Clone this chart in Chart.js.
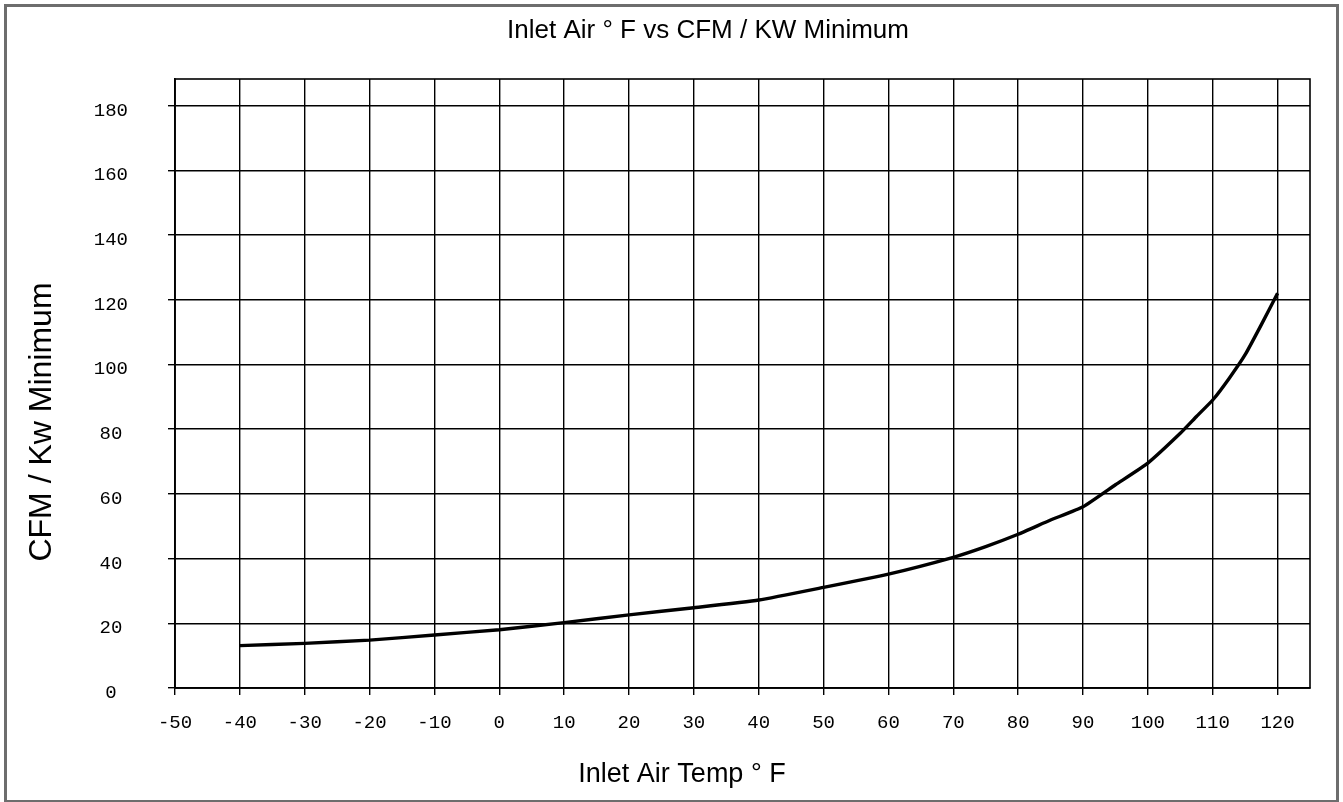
<!DOCTYPE html>
<html>
<head>
<meta charset="utf-8">
<title>Inlet Air vs CFM / KW Minimum</title>
<script src="https://cdn.jsdelivr.net/npm/chart.js@4.4.1/dist/chart.umd.min.js"></script>
<style>
  html, body { margin: 0; padding: 0; background: #fff; }
</style>
</head>
<body>
<canvas id="airChart" width="1343" height="802"></canvas>
<script>
// values
const inletTemps = [-40, -30, -20, -10, 0, 10, 20, 30, 40, 50, 60, 70, 75, 80, 85, 90, 95, 100, 105, 107.5, 110, 112.5, 115, 117.5, 120];
const cfmPerKw = [13.1, 13.8, 14.8, 16.4, 18.0, 20.2, 22.6, 24.8, 27.2, 31.1, 35.2, 40.4, 43.7, 47.5, 51.9, 56.0, 62.8, 69.5, 78.7, 83.9, 89.0, 95.6, 103.0, 112.3, 122.0];

const xRange = [-50, 125];
const yRange = [0, 188.2];
const xStep = 10;
const yStep = 20;

const chartTitle = 'Inlet Air \u00b0 F vs CFM / KW Minimum';
const xTitle = 'Inlet Air Temp \u00b0 F';
const yTitle = 'CFM / Kw Minimum';

const lineInk = '#000';
const tickFont = { family: '"Liberation Mono", "DejaVu Sans Mono", monospace', size: 19 };
const textFont = '"Liberation Sans", Arial, sans-serif';

// frame, plot box and the three captions
const captions = {
    id: 'captions',
    beforeDraw(chart) {
        const ctx = chart.ctx;
        ctx.save();
        ctx.fillStyle = '#fff';
        ctx.fillRect(0, 0, chart.width, chart.height);
        ctx.restore();
    },
    afterDraw(chart) {
        const ctx = chart.ctx;
        const a = chart.chartArea;
        ctx.save();
        ctx.strokeStyle = lineInk;
        ctx.lineWidth = 1.6;
        ctx.strokeRect(a.left, a.top, a.right - a.left, a.bottom - a.top);

        ctx.strokeStyle = '#6d6d6d';
        ctx.lineWidth = 3;
        ctx.strokeRect(5.5, 5.5, chart.width - 11, chart.height - 6);

        ctx.fillStyle = '#000';
        ctx.textAlign = 'center';
        ctx.textBaseline = 'alphabetic';
        ctx.font = '26px ' + textFont;
        ctx.fillText(chartTitle, 708, 38);
        ctx.font = '27px ' + textFont;
        ctx.fillText(xTitle, 682, 782);
        ctx.translate(51, 422);
        ctx.rotate(-Math.PI / 2);
        ctx.font = '32px ' + textFont;
        ctx.fillText(yTitle, 0, 0);
        ctx.restore();
    }
};

const ctx = document.getElementById('airChart').getContext('2d');
new Chart(ctx, {
    type: 'scatter',
    data: {
        datasets: [{
            data: inletTemps.map((t, i) => ({ x: t, y: cfmPerKw[i] })),
            showLine: true,
            borderColor: '#000',
            borderWidth: 3.4,
            pointRadius: 0,
            tension: 0.15,
            fill: false
        }]
    },
    options: {
        responsive: false,
        animation: false,
        layout: { padding: { top: 79, right: 33, left: 0, bottom: 0 } },
        plugins: {
            legend: { display: false },
            title: { display: false },
            tooltip: { enabled: false }
        },
        scales: {
            x: {
                type: 'linear',
                min: xRange[0],
                max: xRange[1],
                ticks: {
                    stepSize: xStep,
                    includeBounds: false,
                    autoSkip: false,
                    maxRotation: 0,
                    padding: 17,
                    color: '#000',
                    font: tickFont
                },
                grid: { color: lineInk, lineWidth: 1.4, tickLength: 7, tickColor: lineInk },
                border: { color: lineInk, width: 1.6 },
                afterFit(scale) { scale.height = 114; }
            },
            y: {
                type: 'linear',
                min: yRange[0],
                max: yRange[1],
                ticks: {
                    stepSize: yStep,
                    includeBounds: false,
                    padding: 40,
                    crossAlign: 'center',
                    labelOffset: 5,
                    color: '#000',
                    font: tickFont
                },
                grid: { color: lineInk, lineWidth: 1.4, tickLength: 7, tickColor: lineInk },
                border: { color: lineInk, width: 1.6 },
                afterFit(scale) { scale.width = 175; }
            }
        }
    },
    plugins: [captions]
});
</script>
</body>
</html>
